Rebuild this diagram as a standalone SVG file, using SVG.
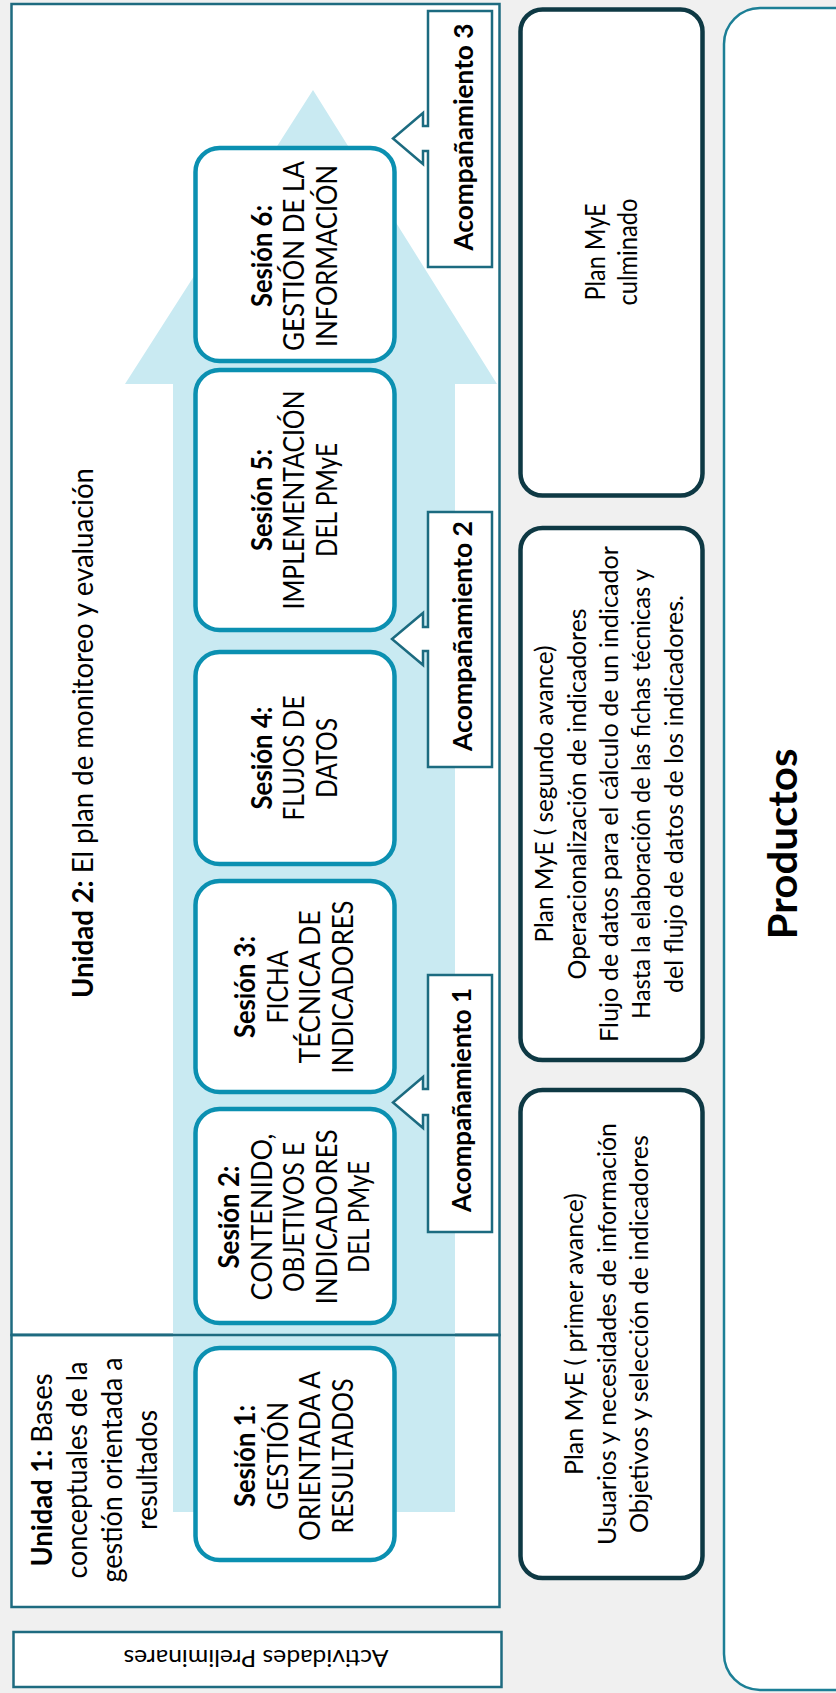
<svg xmlns="http://www.w3.org/2000/svg" width="836" height="1693" viewBox="0 0 836 1693">
<style>
text{font-family:Lato,"Liberation Sans",sans-serif;fill:#000;text-anchor:middle}
.s{font-size:28px}
.u{font-size:29px}
.p{font-size:25px}
.b{font-weight:700}
.frame{fill:#fff;stroke:#1e6b80;stroke-width:2.5}
.sess{fill:#fff;stroke:#0b90b1;stroke-width:4.5}
.prod{fill:#fff;stroke:#0e3944;stroke-width:4.5}
.call{fill:#fff;stroke:#1c6b80;stroke-width:2.5}
</style>
<rect width="836" height="1693" fill="#f0f0f0"/>

<g id="productos">
<rect x="724" y="8" width="160" height="1682" rx="36" fill="#fff" stroke="#1c7f96" stroke-width="2.5"/>
<text class="b" font-size="41" transform="translate(797,844) rotate(-90)" textLength="191" lengthAdjust="spacingAndGlyphs">Productos</text>
</g>

<g id="unidad2">
<rect class="frame" x="11.5" y="4" width="488" height="1331"/>
<text class="u" transform="translate(93,733) rotate(-90)" textLength="530" lengthAdjust="spacingAndGlyphs"><tspan class="b">Unidad 2:</tspan> El plan de monitoreo y evaluación</text>
</g>

<g id="unidad1">
<rect class="frame" x="11.5" y="1335" width="488" height="272"/>
<text class="u" transform="translate(52,1470) rotate(-90)" textLength="193" lengthAdjust="spacingAndGlyphs"><tspan class="b">Unidad 1:</tspan> Bases</text>
<text class="u" transform="translate(87,1470) rotate(-90)" textLength="217" lengthAdjust="spacingAndGlyphs">conceptuales de la</text>
<text class="u" transform="translate(122,1470) rotate(-90)" textLength="225" lengthAdjust="spacingAndGlyphs">gestión orientada a</text>
<text class="u" transform="translate(156.5,1470) rotate(-90)" textLength="120" lengthAdjust="spacingAndGlyphs">resultados</text>
</g>

<g id="connectors">
<path d="M173,1512 V384 H125 L313,90 L497,384 H455 V1512 Z" fill="#c9eaf2"/>
<line x1="11.5" y1="1335" x2="499.5" y2="1335" stroke="#1e6b80" stroke-width="2.5"/>
</g>

<g id="sesion6">
<rect class="sess" x="195.5" y="148" width="199" height="213" rx="24"/>
<text class="s b" transform="translate(271.5,256) rotate(-90)" textLength="102" lengthAdjust="spacingAndGlyphs">Sesión 6:</text>
<text class="s" transform="translate(304,256) rotate(-90)" textLength="190" lengthAdjust="spacingAndGlyphs">GESTIÓN DE LA</text>
<text class="s" transform="translate(336.5,256) rotate(-90)" textLength="182" lengthAdjust="spacingAndGlyphs">INFORMACIÓN</text>
</g>

<g id="sesion5">
<rect class="sess" x="195.5" y="370" width="199" height="260" rx="24"/>
<text class="s b" transform="translate(271.5,500) rotate(-90)" textLength="102" lengthAdjust="spacingAndGlyphs">Sesión 5:</text>
<text class="s" transform="translate(304,500) rotate(-90)" textLength="219" lengthAdjust="spacingAndGlyphs">IMPLEMENTACIÓN</text>
<text class="s" transform="translate(336.5,500) rotate(-90)" textLength="114" lengthAdjust="spacingAndGlyphs">DEL PMyE</text>
</g>

<g id="sesion4">
<rect class="sess" x="195.5" y="652" width="199" height="212" rx="24"/>
<text class="s b" transform="translate(271.5,758) rotate(-90)" textLength="103" lengthAdjust="spacingAndGlyphs">Sesión 4:</text>
<text class="s" transform="translate(304,758) rotate(-90)" textLength="125" lengthAdjust="spacingAndGlyphs">FLUJOS DE</text>
<text class="s" transform="translate(336.5,758) rotate(-90)" textLength="80" lengthAdjust="spacingAndGlyphs">DATOS</text>
</g>

<g id="sesion3">
<rect class="sess" x="195.5" y="881" width="199" height="211" rx="24"/>
<text class="s b" transform="translate(255,987) rotate(-90)" textLength="102" lengthAdjust="spacingAndGlyphs">Sesión 3:</text>
<text class="s" transform="translate(288,987) rotate(-90)" textLength="73" lengthAdjust="spacingAndGlyphs">FICHA</text>
<text class="s" transform="translate(320,987) rotate(-90)" textLength="153" lengthAdjust="spacingAndGlyphs">TÉCNICA DE</text>
<text class="s" transform="translate(353,987) rotate(-90)" textLength="173" lengthAdjust="spacingAndGlyphs">INDICADORES</text>
</g>

<g id="sesion2">
<rect class="sess" x="195.5" y="1109" width="199" height="214" rx="24"/>
<text class="s b" transform="translate(239,1217) rotate(-90)" textLength="103" lengthAdjust="spacingAndGlyphs">Sesión 2:</text>
<text class="s" transform="translate(271.5,1217) rotate(-90)" textLength="167" lengthAdjust="spacingAndGlyphs">CONTENIDO,</text>
<text class="s" transform="translate(304,1217) rotate(-90)" textLength="150" lengthAdjust="spacingAndGlyphs">OBJETIVOS E</text>
<text class="s" transform="translate(336.5,1217) rotate(-90)" textLength="175" lengthAdjust="spacingAndGlyphs">INDICADORES</text>
<text class="s" transform="translate(369,1217) rotate(-90)" textLength="112" lengthAdjust="spacingAndGlyphs">DEL PMyE</text>
</g>

<g id="sesion1">
<rect class="sess" x="195.5" y="1348" width="199" height="212" rx="24"/>
<text class="s b" transform="translate(255,1456) rotate(-90)" textLength="102" lengthAdjust="spacingAndGlyphs">Sesión 1:</text>
<text class="s" transform="translate(288,1456) rotate(-90)" textLength="108" lengthAdjust="spacingAndGlyphs">GESTIÓN</text>
<text class="s" transform="translate(320,1456) rotate(-90)" textLength="170" lengthAdjust="spacingAndGlyphs">ORIENTADA A</text>
<text class="s" transform="translate(353,1456) rotate(-90)" textLength="155" lengthAdjust="spacingAndGlyphs">RESULTADOS</text>
</g>

<g id="acompanamiento3">
<path class="call" d="M428,11 H492 V267 H428 V151 H423 V164 L393,138.5 L423,113 V126 H428 Z"/>
<text class="b" font-size="27" transform="translate(473,137) rotate(-90)" textLength="227" lengthAdjust="spacingAndGlyphs">Acompañamiento 3</text>
</g>

<g id="acompanamiento2">
<path class="call" d="M428,512 H492 V767 H428 V651 H423 V665 L392,639 L423,613 V627 H428 Z"/>
<text class="b" font-size="27" transform="translate(472,636) rotate(-90)" textLength="230" lengthAdjust="spacingAndGlyphs">Acompañamiento 2</text>
</g>

<g id="acompanamiento1">
<path class="call" d="M428,975 H492 V1232 H428 V1115 H423 V1128 L393,1102.5 L423,1077 V1089 H428 Z"/>
<text class="b" font-size="27" transform="translate(471,1100) rotate(-90)" textLength="224" lengthAdjust="spacingAndGlyphs">Acompañamiento 1</text>
</g>

<g id="plan-culminado">
<rect class="prod" x="520.5" y="9.5" width="182" height="486" rx="22"/>
<text font-size="27" transform="translate(605,252) rotate(-90)" textLength="97" lengthAdjust="spacingAndGlyphs">Plan MyE</text>
<text font-size="27" transform="translate(637,252) rotate(-90)" textLength="107" lengthAdjust="spacingAndGlyphs">culminado</text>
</g>

<g id="plan-segundo">
<rect class="prod" x="520.5" y="528" width="182" height="532" rx="22"/>
<text class="p" transform="translate(553,794) rotate(-90)" textLength="297" lengthAdjust="spacingAndGlyphs">Plan MyE ( segundo avance)</text>
<text class="p" transform="translate(586,794) rotate(-90)" textLength="371" lengthAdjust="spacingAndGlyphs">Operacionalización de indicadores</text>
<text class="p" transform="translate(618,794) rotate(-90)" textLength="496" lengthAdjust="spacingAndGlyphs">Flujo de datos para el cálculo de un indicador</text>
<text class="p" transform="translate(650,794) rotate(-90)" textLength="450" lengthAdjust="spacingAndGlyphs">Hasta la elaboración de las fichas técnicas y</text>
<text class="p" transform="translate(683,794) rotate(-90)" textLength="398" lengthAdjust="spacingAndGlyphs">del flujo de datos de los indicadores.</text>
</g>

<g id="plan-primer">
<rect class="prod" x="520.5" y="1090" width="182" height="488" rx="22"/>
<text class="p" transform="translate(583,1334) rotate(-90)" textLength="282" lengthAdjust="spacingAndGlyphs">Plan MyE ( primer avance)</text>
<text class="p" transform="translate(616,1334) rotate(-90)" textLength="422" lengthAdjust="spacingAndGlyphs">Usuarios y necesidades de información</text>
<text class="p" transform="translate(648,1334) rotate(-90)" textLength="398" lengthAdjust="spacingAndGlyphs">Objetivos y selección de indicadores</text>
</g>

<g id="actividades">
<rect x="13.5" y="1632" width="488" height="55" fill="#fff" stroke="#1e6b80" stroke-width="2.5"/>
<text font-size="24" transform="translate(256,1659) rotate(180)" y="9" textLength="265" lengthAdjust="spacingAndGlyphs">Actividades Preliminares</text>
</g>
</svg>
